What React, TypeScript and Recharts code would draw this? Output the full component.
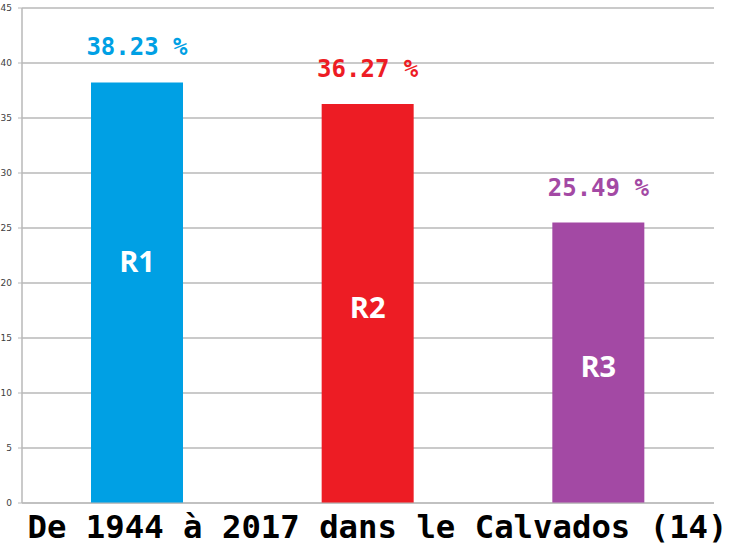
import { BarChart, Bar, XAxis, YAxis, CartesianGrid, Cell, LabelList } from 'recharts'

const regions = ['R1', 'R2', 'R3']
const shares = [38.23, 36.27, 25.49]
const colors = ['#00A0E4', '#ED1C24', '#A349A4']
// level (in axis units) where the region name sits inside each bar
const nameLevels = [21.9, 17.7, 12.4]
const yTicks = [0, 5, 10, 15, 20, 25, 30, 35, 40, 45]

const data = regions.map((name, i) => ({
  name,
  value: shares[i],
  color: colors[i],
  level: nameLevels[i]
}))

const mono = '"DejaVu Sans Mono", monospace'

function ValueLabel(props: any) {
  const { x, y, width, index } = props
  const d = data[index]
  return (
    <text
      x={x + width / 2}
      y={y - 27}
      textAnchor="middle"
      fill={d.color}
      fontFamily={mono}
      fontWeight="bold"
      fontSize={24}
    >
      {d.value.toFixed(2)} %
    </text>
  )
}

function NameLabel(props: any) {
  const { x, y, width, height, index } = props
  const d = data[index]
  const cy = y + height * (1 - d.level / d.value)
  return (
    <text
      x={x + width / 2}
      y={cy}
      dy={10}
      textAnchor="middle"
      fill="#ffffff"
      fontFamily='"Open Sans", sans-serif'
      fontWeight="bold"
      fontSize={29}
    >
      {d.name}
    </text>
  )
}

export default function App() {
  return (
    <div style={{ position: 'absolute', left: 0, top: 0, width: 750, height: 551, background: '#fff' }}>
      <BarChart
        width={750}
        height={551}
        data={data}
        margin={{ top: 8, right: 36, left: 0, bottom: 47 }}
      >
        <CartesianGrid vertical={false} stroke="#b8b8b8" strokeWidth={1.5} />
        <XAxis dataKey="name" tick={false} height={1} axisLine={{ stroke: '#b8b8b8' }} tickLine={false} />
        <YAxis
          domain={[0, 45]}
          ticks={yTicks}
          width={22}
          tickSize={4}
          tickMargin={6}
          axisLine={{ stroke: '#b8b8b8', strokeWidth: 1.5 }}
          tickLine={{ stroke: '#b8b8b8' }}
          tick={{ fontSize: 9, fill: '#404040', fontFamily: 'Verdana, "DejaVu Sans", sans-serif' }}
          interval={0}
        />
        <Bar dataKey="value" barSize={92} isAnimationActive={false}>
          {data.map((d) => (
            <Cell key={d.name} fill={d.color} />
          ))}
          <LabelList dataKey="value" content={ValueLabel} />
          <LabelList dataKey="name" content={NameLabel} />
        </Bar>
      </BarChart>
      <div
        style={{
          position: 'absolute',
          left: 0,
          top: 508,
          width: 755,
          textAlign: 'center',
          fontFamily: mono,
          fontWeight: 'bold',
          fontSize: 32.3,
          color: '#000',
          whiteSpace: 'nowrap'
        }}
      >
        De 1944 à 2017 dans le Calvados (14)
      </div>
    </div>
  )
}
